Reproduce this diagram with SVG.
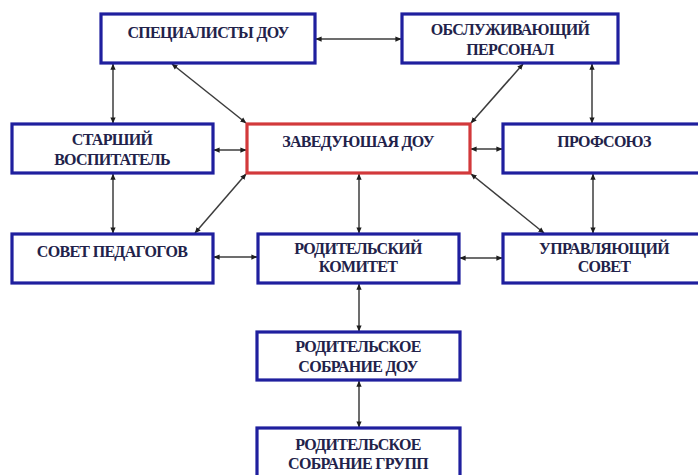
<svg xmlns="http://www.w3.org/2000/svg" width="698" height="475" viewBox="0 0 698 475">
<defs>
<marker id="ah" viewBox="0 0 8 8" refX="7.5" refY="4" markerWidth="6" markerHeight="6" markerUnits="userSpaceOnUse" orient="auto-start-reverse">
<path d="M0,0.5 L8,4 L0,7.5 Z" fill="#1e1e1e"/>
</marker>
</defs>
<style>
.box{fill:#ffffff;stroke:#1f1f9e;stroke-width:3.2}
.main{fill:#ffffff;stroke:#d2393b;stroke-width:3.2}
.t{font-family:"Liberation Serif","Times New Roman",serif;font-weight:bold;font-size:16px;fill:#22224a;text-anchor:middle;letter-spacing:-0.7px}
.c{stroke:#3c3c3c;stroke-width:1.5;fill:none;marker-start:url(#ah);marker-end:url(#ah)}
</style>
<rect width="698" height="475" fill="#ffffff"/>
<g id="connectors">
<line class="c" x1="316" y1="39" x2="401" y2="39"/>
<line class="c" x1="113" y1="64" x2="113" y2="123"/>
<line class="c" x1="172" y1="64" x2="246" y2="123"/>
<line class="c" x1="523" y1="64" x2="471" y2="123"/>
<line class="c" x1="592" y1="64" x2="592" y2="123"/>
<line class="c" x1="214" y1="150" x2="246" y2="150"/>
<line class="c" x1="471" y1="149" x2="502" y2="149"/>
<line class="c" x1="113" y1="174" x2="113" y2="233"/>
<line class="c" x1="246" y1="174" x2="195" y2="233"/>
<line class="c" x1="359" y1="174" x2="359" y2="233"/>
<line class="c" x1="471" y1="174" x2="544" y2="233"/>
<line class="c" x1="593" y1="174" x2="593" y2="233"/>
<line class="c" x1="214" y1="257" x2="257" y2="257"/>
<line class="c" x1="460" y1="258" x2="502" y2="258"/>
<line class="c" x1="359" y1="284" x2="359" y2="331"/>
<line class="c" x1="359" y1="381" x2="359" y2="427"/>
</g>
<g id="spec">
<rect class="box" x="101" y="14" width="214" height="49"/>
<text class="t" x="208" y="38">СПЕЦИАЛИСТЫ ДОУ</text>
</g>
<g id="obsl">
<rect class="box" x="402" y="14" width="216" height="49"/>
<text class="t" x="510" y="35">ОБСЛУЖИВАЮЩИЙ</text>
<text class="t" x="510" y="55">ПЕРСОНАЛ</text>
</g>
<g id="starshiy">
<rect class="box" x="12" y="124" width="201" height="49"/>
<text class="t" x="112" y="145">СТАРШИЙ</text>
<text class="t" x="112" y="165">ВОСПИТАТЕЛЬ</text>
</g>
<g id="zav">
<rect class="main" x="247" y="124" width="223" height="49"/>
<text class="t" x="358" y="147">ЗАВЕДУЮШАЯ ДОУ</text>
</g>
<g id="profsoyuz">
<rect class="box" x="503" y="124" width="204" height="49"/>
<text class="t" x="604" y="147">ПРОФСОЮЗ</text>
</g>
<g id="sovet-ped">
<rect class="box" x="12" y="234" width="201" height="49"/>
<text class="t" x="112" y="257">СОВЕТ ПЕДАГОГОВ</text>
</g>
<g id="rod-kom">
<rect class="box" x="258" y="234" width="201" height="49"/>
<text class="t" x="358" y="254">РОДИТЕЛЬСКИЙ</text>
<text class="t" x="358" y="272">КОМИТЕТ</text>
</g>
<g id="upr">
<rect class="box" x="503" y="234" width="204" height="49"/>
<text class="t" x="604" y="254">УПРАВЛЯЮЩИЙ</text>
<text class="t" x="604" y="272">СОВЕТ</text>
</g>
<g id="rod-sobr-dou">
<rect class="box" x="257" y="332" width="203" height="48"/>
<text class="t" x="358" y="352">РОДИТЕЛЬСКОЕ</text>
<text class="t" x="358" y="372">СОБРАНИЕ ДОУ</text>
</g>
<g id="rod-sobr-grupp">
<rect class="box" x="257" y="428" width="203" height="52"/>
<text class="t" x="358" y="450">РОДИТЕЛЬСКОЕ</text>
<text class="t" x="358" y="469">СОБРАНИЕ ГРУПП</text>
</g>
</svg>
